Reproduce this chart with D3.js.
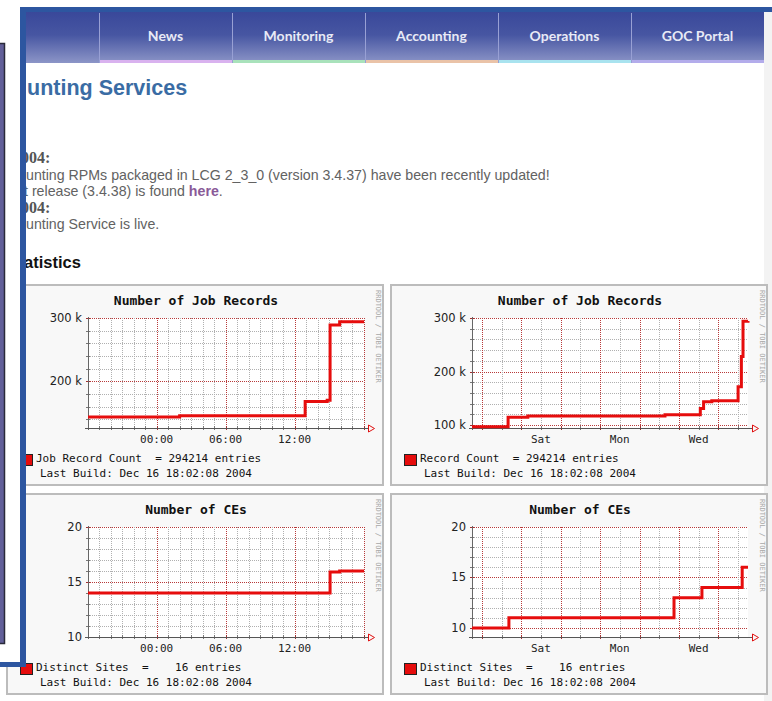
<!DOCTYPE html>
<html>
<head>
<meta charset="utf-8">
<script src="https://cdn.jsdelivr.net/npm/d3@7"></script>
<style>
body { margin: 0; background: #fff; overflow: hidden; }
svg { display: block; }
text { white-space: pre; }
</style>
</head>
<body>
<div id="chart"></div>
<script>
// ---- data ----
// Number of Job Records, last 24 hours
var dayJobTime  = ["2004-12-15 18:02", "2004-12-16 02:00", "2004-12-16 12:55", "2004-12-16 14:50", "2004-12-16 15:05", "2004-12-16 15:55", "2004-12-16 18:02"];
var dayJobCount = [143500, 145500, 168000, 170000, 289000, 294200, 294200];

// Number of Job Records, last week
var weekJobTime  = ["2004-12-09 18:02", "2004-12-10 16:00", "2004-12-11 04:00", "2004-12-14 15:30", "2004-12-15 13:00", "2004-12-15 15:00", "2004-12-15 20:00", "2004-12-16 12:00", "2004-12-16 14:00", "2004-12-16 15:00", "2004-12-16 18:02"];
var weekJobCount = [96600, 114300, 116700, 119000, 131000, 143600, 145500, 171700, 228000, 293700, 294200];

// Number of CEs, last 24 hours
var dayCeTime  = ["2004-12-15 18:02", "2004-12-16 15:05", "2004-12-16 15:55", "2004-12-16 18:02"];
var dayCeCount = [14, 15.9, 16, 16];

// Number of CEs, last week
var weekCeTime  = ["2004-12-09 18:02", "2004-12-10 16:30", "2004-12-14 21:00", "2004-12-15 14:00", "2004-12-16 14:30", "2004-12-16 18:02"];
var weekCeCount = [10, 11, 13, 14, 16, 16];

// axis ranges and labels
var dayRange  = ["2004-12-15 18:02", "2004-12-16 18:02"];
var weekRange = ["2004-12-09 18:02", "2004-12-16 18:02"];
var dayJobRange  = [126000, 300000];
var weekJobRange = [94400, 300000];
var dayCeRange   = [10, 20];
var weekCeRange  = [9.1, 20];

var jobTicks = [100000, 200000, 300000];
var jobTickLabels = ["100 k", "200 k", "300 k"];
var ceTicks = [10, 15, 20];
var ceTickLabels = ["10", "15", "20"];

var dayLabelTime = ["2004-12-16 00:00", "2004-12-16 06:00", "2004-12-16 12:00"];
var dayLabels = ["00:00", "06:00", "12:00"];
var weekLabelTime = ["2004-12-11 12:00", "2004-12-13 12:00", "2004-12-15 12:00"];
var weekLabels = ["Sat", "Mon", "Wed"];

var navItems = ["News", "Monitoring", "Accounting", "Operations", "GOC Portal"];

// ---- page ----
var width = 772, height = 701;
var parse = d3.timeParse("%Y-%m-%d %H:%M");

var svg = d3.select("#chart").append("svg")
  .attr("width", width)
  .attr("height", height);

var defs = svg.append("defs");
var grad = defs.append("linearGradient").attr("id", "navGrad")
  .attr("x1", 0).attr("y1", 0).attr("x2", 0).attr("y2", 1);
grad.append("stop").attr("offset", "0%").attr("stop-color", "#39489a");
grad.append("stop").attr("offset", "45%").attr("stop-color", "#4756a2");
grad.append("stop").attr("offset", "100%").attr("stop-color", "#8c95c7");

// nav bar
svg.append("rect").attr("x", 764).attr("y", 12).attr("width", 8).attr("height", 689).attr("fill", "#f3f3f3");
svg.append("rect").attr("x", 26).attr("y", 12).attr("width", 738).attr("height", 51).attr("fill", "url(#navGrad)");
var accent = ["#d9b2ef", "#a9e2bb", "#eac3a8", "#a9e3ef", "#b3aceb"];
navItems.forEach(function(name, i) {
  var cx = 99 + i * 133;
  svg.append("rect").attr("x", cx).attr("y", 60).attr("width", 133).attr("height", 3).attr("fill", accent[i]);
  svg.append("line").attr("x1", cx + 0.5).attr("x2", cx + 0.5).attr("y1", 13).attr("y2", 63)
    .attr("stroke", "#98a0d4").attr("stroke-width", 1);
  svg.append("text")
    .attr("x", cx + 66.5).attr("y", 41)
    .attr("text-anchor", "middle")
    .style("font-family", "Lato, 'DejaVu Sans', sans-serif")
    .style("font-weight", "bold")
    .style("font-size", "14px")
    .style("fill", "#e8eaf6")
    .text(name);
});

// heading and news
svg.append("text").attr("x", 27).attr("y", 95)
  .style("font-family", "'Liberation Sans', Arial, sans-serif")
  .style("font-weight", "bold").style("font-size", "21.5px").style("fill", "#3a6ca4")
  .text("unting Services");

function newsDate(y, txt) {
  svg.append("text").attr("x", 21).attr("y", y)
    .style("font-family", "'Liberation Serif', serif").style("font-weight", "bold")
    .style("font-size", "16px").style("fill", "#555")
    .text(txt);
}
function newsLine(x, y) {
  return svg.append("text").attr("x", x).attr("y", y)
    .style("font-family", "'Liberation Sans', Arial, sans-serif")
    .style("font-size", "14.2px").style("fill", "#626262");
}
newsDate(163, "004:");
newsLine(26, 180).text("unting RPMs packaged in LCG 2_3_0 (version 3.4.37) have been recently updated!");
var rel = newsLine(24, 196);
rel.append("tspan").text("t release (3.4.38) is found ");
rel.append("tspan").style("font-weight", "bold").style("fill", "#8a5a98").text("here");
rel.append("tspan").text(".");
newsDate(213, "004:");
newsLine(26, 229).text("unting Service is live.");
svg.append("text").attr("x", 24).attr("y", 268)
  .style("font-family", "'Liberation Sans', Arial, sans-serif")
  .style("font-weight", "bold").style("font-size", "16.5px").style("fill", "#111")
  .text("atistics");

// ---- RRD graph panels ----
var PW = 378, PH = 202;
var plotL = 82, plotR = 358, plotT = 34, plotB = 144;

function drawChart(px, py, o) {
  var g = svg.append("g").attr("transform", "translate(" + px + "," + py + ")");
  g.append("rect").attr("x", 1).attr("y", 1).attr("width", PW - 2).attr("height", PH - 2)
    .attr("fill", "#f8f8f8").attr("stroke", "#bcbcbc").attr("stroke-width", 2);

  var t0 = parse(o.range[0]), t1 = parse(o.range[1]);
  var x = d3.scaleTime().domain([t0, t1]).range([plotL, plotR]);
  var y = d3.scaleLinear().domain(o.yRange).range([plotB, plotT]);

  g.append("rect").attr("x", plotL).attr("y", plotT)
    .attr("width", plotR - plotL).attr("height", plotB - plotT).attr("fill", "#fff");

  // title
  g.append("text").attr("x", 190).attr("y", 21).attr("text-anchor", "middle")
    .style("font-family", "'DejaVu Sans Mono', monospace").style("font-weight", "bold")
    .style("font-size", "13px").style("fill", "#111")
    .text(o.title);

  // horizontal grid
  var lo = o.yRange[0], hi = o.yRange[1];
  var hy = d3.range(Math.ceil(lo / o.minorStep) * o.minorStep, hi + 1e-9, o.minorStep);
  hy.forEach(function(v) {
    var yy = Math.round(y(v)) + 0.5;
    var major = o.ticks.indexOf(v) >= 0;
    g.append("line").attr("x1", plotL).attr("x2", plotR).attr("y1", yy).attr("y2", yy)
      .attr("stroke", major ? "#b83a3a" : "#b0b0b0").attr("stroke-dasharray", "1,1");
    g.append("line").attr("x1", plotL - 2).attr("x2", plotL + 2).attr("y1", yy).attr("y2", yy)
      .attr("stroke", major ? "#a03030" : "#777");
  });

  // vertical grid
  var minorX = o.minor.range(t0, t1), majorX = o.major.range(t0, t1);
  minorX.forEach(function(t) {
    var xx = Math.round(x(t)) + 0.5;
    g.append("line").attr("x1", xx).attr("x2", xx).attr("y1", plotT).attr("y2", plotB)
      .attr("stroke", "#b0b0b0").attr("stroke-dasharray", "1,1");
    g.append("line").attr("x1", xx).attr("x2", xx).attr("y1", plotB - 2).attr("y2", plotB + 2).attr("stroke", "#777");
  });
  majorX.forEach(function(t) {
    var xx = Math.round(x(t)) + 0.5;
    g.append("line").attr("x1", xx).attr("x2", xx).attr("y1", plotT).attr("y2", plotB)
      .attr("stroke", "#b83a3a").attr("stroke-dasharray", "1,1");
    g.append("line").attr("x1", xx).attr("x2", xx).attr("y1", plotB - 2).attr("y2", plotB + 2).attr("stroke", "#a03030");
  });

  // y labels
  o.ticks.forEach(function(v, i) {
    if (v < lo - 1e-9 || v > hi + 1e-9) return;
    g.append("text").attr("x", plotL - 6).attr("y", y(v) + 4).attr("text-anchor", "end")
      .style("font-family", "'DejaVu Sans', Verdana, sans-serif").style("font-size", "11.5px")
      .style("fill", "#222").text(o.tickLabels[i]);
  });

  // x labels
  o.labelTime.forEach(function(s, i) {
    g.append("text").attr("x", x(parse(s))).attr("y", 158.5).attr("text-anchor", "middle")
      .style("font-family", "'DejaVu Sans Mono', monospace").style("font-size", "11px")
      .style("fill", "#222").text(o.labels[i]);
  });

  // axes
  g.append("line").attr("x1", plotL + 0.5).attr("x2", plotL + 0.5).attr("y1", plotT - 1).attr("y2", plotB + 2)
    .attr("stroke", "#666");
  g.append("line").attr("x1", plotL - 3).attr("x2", plotR + 4).attr("y1", plotB + 0.5).attr("y2", plotB + 0.5)
    .attr("stroke", "#555");
  g.append("path")
    .attr("d", "M" + (plotR + 4.5) + "," + (plotB - 3) + "L" + (plotR + 10.5) + "," + (plotB + 0.5) + "L" + (plotR + 4.5) + "," + (plotB + 4) + "Z")
    .attr("fill", "none").attr("stroke", "#e01010");

  // data line
  var pts = o.time.map(function(s, i) { return { t: parse(s), v: o.values[i] }; });
  var line = d3.line()
    .x(function(d) { return x(d.t); })
    .y(function(d) { return y(d.v); })
    .curve(d3.curveStepAfter);
  g.append("path").datum(pts).attr("d", line)
    .attr("fill", "none").attr("stroke", "#e60d0d").attr("stroke-width", 3);

  // legend
  g.append("rect").attr("x", 14.5).attr("y", 170.5).attr("width", 12).attr("height", 11)
    .attr("fill", "#e60d0d").attr("stroke", "#222");
  g.append("text").attr("x", 30).attr("y", 178)
    .style("font-family", "'DejaVu Sans Mono', monospace").style("font-size", "11px")
    .style("fill", "#111").text(o.legend);
  g.append("text").attr("x", 34).attr("y", 193)
    .style("font-family", "'DejaVu Sans Mono', monospace").style("font-size", "11px")
    .style("fill", "#111").text("Last Build: Dec 16 18:02:08 2004");

  // credit
  g.append("text").attr("transform", "translate(370,6) rotate(90)")
    .style("font-family", "'DejaVu Sans Mono', monospace").style("font-size", "7px")
    .style("fill", "#a8a8a8").text("RRDTOOL / TOBI OETIKER");
}

var dayMinor = d3.timeHour.every(1), dayMajor = d3.timeHour.every(6);
var weekMinor = d3.timeHour.every(12), weekMajor = d3.timeDay;

drawChart(6, 284, {
  title: "Number of Job Records", range: dayRange, yRange: dayJobRange,
  ticks: jobTicks, tickLabels: jobTickLabels, minorStep: 20000,
  minor: dayMinor, major: dayMajor, labelTime: dayLabelTime, labels: dayLabels,
  time: dayJobTime, values: dayJobCount, legend: "Job Record Count  = 294214 entries"
});
drawChart(390, 284, {
  title: "Number of Job Records", range: weekRange, yRange: weekJobRange,
  ticks: jobTicks, tickLabels: jobTickLabels, minorStep: 20000,
  minor: weekMinor, major: weekMajor, labelTime: weekLabelTime, labels: weekLabels,
  time: weekJobTime, values: weekJobCount, legend: "Record Count  = 294214 entries"
});
drawChart(6, 493, {
  title: "Number of CEs", range: dayRange, yRange: dayCeRange,
  ticks: ceTicks, tickLabels: ceTickLabels, minorStep: 1,
  minor: dayMinor, major: dayMajor, labelTime: dayLabelTime, labels: dayLabels,
  time: dayCeTime, values: dayCeCount, legend: "Distinct Sites  =    16 entries"
});
drawChart(390, 493, {
  title: "Number of CEs", range: weekRange, yRange: weekCeRange,
  ticks: ceTicks, tickLabels: ceTickLabels, minorStep: 1,
  minor: weekMinor, major: weekMajor, labelTime: weekLabelTime, labels: weekLabels,
  time: weekCeTime, values: weekCeCount, legend: "Distinct Sites  =    16 entries"
});

// ---- frame overlapping the left edge ----
svg.append("rect").attr("x", 0).attr("y", 0).attr("width", 20).attr("height", 662).attr("fill", "#fff");
svg.append("rect").attr("x", -2).attr("y", 43.5).attr("width", 6.5).attr("height", 600)
  .attr("fill", "#625f99").attr("stroke", "#2a2a3a").attr("stroke-width", 1.5);
svg.append("rect").attr("x", 20).attr("y", 7).attr("width", 752).attr("height", 5).attr("fill", "#2d56a0");
svg.append("rect").attr("x", 20).attr("y", 7).attr("width", 6).attr("height", 660).attr("fill", "#2d56a0");
svg.append("rect").attr("x", 0).attr("y", 662).attr("width", 26).attr("height", 5).attr("fill", "#2d56a0");
</script>
</body>
</html>
